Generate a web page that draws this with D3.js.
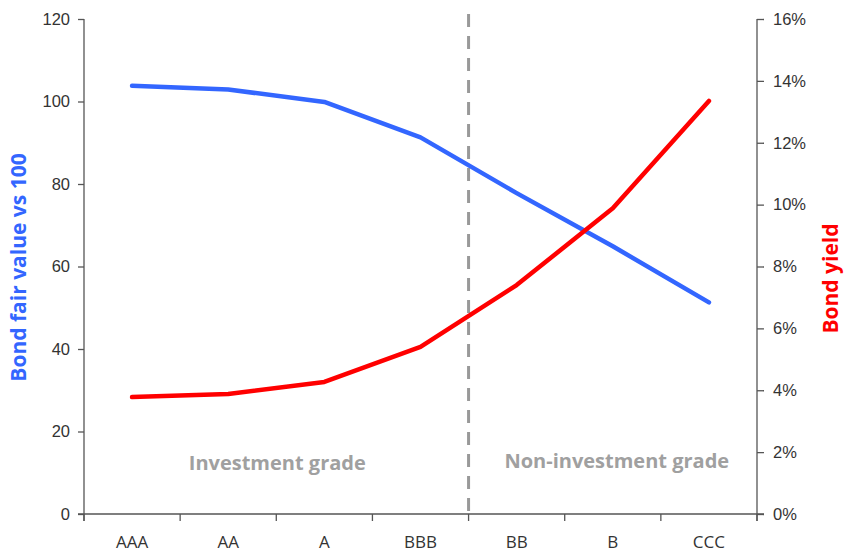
<!DOCTYPE html>
<html>
<head>
<meta charset="utf-8">
<script src="https://cdn.jsdelivr.net/npm/d3@7"></script>
<style>
  html, body { margin: 0; padding: 0; background: #fff; }
  svg { display: block; font-family: "Open Sans", "Noto Sans", sans-serif; }
  .axis path, .axis line { stroke: #555; stroke-width: 1.3; }
  .axis text { fill: #333; font-size: 16.5px; }
</style>
</head>
<body>
<svg id="chart" width="845" height="554"></svg>
<script>
// Credit ratings along the x axis
const ratings = ["AAA", "AA", "A", "BBB", "BB", "B", "CCC"];
// Bond fair value relative to par (left axis)
const fairValue = [103.8, 102.9, 99.9, 91.3, 77.8, 64.9, 51.3];
// Bond yield in percent (right axis)
const bondYield = [3.78, 3.88, 4.27, 5.40, 7.40, 9.88, 13.35];
// Axis ticks
const leftTicks = [0, 20, 40, 60, 80, 100, 120];
const rightTicks = [0, 2, 4, 6, 8, 10, 12, 14, 16];
// Grade boundary sits between these two ratings
const gradeSplit = ["BBB", "BB"];

const svg = d3.select("#chart");
const margin = { left: 84, right: 88, top: 19, bottom: 40 };
const W = 845, H = 554;
const x0 = margin.left, x1 = W - margin.right;
const y0 = H - margin.bottom, y1 = margin.top;

const x = d3.scaleBand().domain(ratings).range([x0, x1]).padding(0);
const yL = d3.scaleLinear().domain([0, 120]).range([y0, y1]);
const yR = d3.scaleLinear().domain([0, 16]).range([y0, y1]);

// Left axis
const gL = svg.append("g").attr("class", "axis").attr("transform", `translate(${x0},0)`)
  .call(d3.axisLeft(yL).tickValues(leftTicks).tickSize(6).tickPadding(8).tickSizeOuter(0));
gL.select(".domain").attr("d", `M0,${y1}V${y0 + 7}`);

// Right axis
const gR = svg.append("g").attr("class", "axis").attr("transform", `translate(${x1},0)`)
  .call(d3.axisRight(yR).tickValues(rightTicks).tickFormat(d => d + "%").tickSize(7).tickPadding(9).tickSizeOuter(0));
gR.select(".domain").attr("d", `M0,${y1}V${y0 + 7}`);

// Bottom axis: ticks sit on band boundaries, labels at band centres
const gB = svg.append("g").attr("class", "axis").attr("transform", `translate(0,${y0})`);
gB.append("line").attr("x1", x0 - 6).attr("x2", x1 + 7).attr("y1", 0).attr("y2", 0)
  .attr("stroke", "#555").attr("stroke-width", 1.3);
const bounds = ratings.map(r => x(r)).concat([x1]);
gB.selectAll("line.tk").data(bounds).join("line").attr("class", "tk")
  .attr("x1", d => d).attr("x2", d => d).attr("y1", 0).attr("y2", 7);
gB.selectAll("text").data(ratings).join("text")
  .attr("x", d => x(d) + x.bandwidth() / 2).attr("y", 34)
  .attr("text-anchor", "middle").style("font-size", "17px").text(d => d);

// Dashed grade boundary
const splitX = x(gradeSplit[1]);
svg.append("line").attr("x1", splitX).attr("x2", splitX).attr("y1", 14).attr("y2", y0 + 6)
  .attr("stroke", "#999").attr("stroke-width", 3).attr("stroke-dasharray", "13,9");

// Grade labels
svg.append("text").attr("x", (x0 + splitX) / 2 + 1).attr("y", 470).attr("text-anchor", "middle")
  .attr("fill", "#a0a0a0").style("font-size", "20px").style("font-weight", "bold").text("Investment grade");
svg.append("text").attr("x", (splitX + x1) / 2 + 4).attr("y", 468).attr("text-anchor", "middle")
  .attr("fill", "#a0a0a0").style("font-size", "20px").style("font-weight", "bold").text("Non-investment grade");

// Lines
const cx = r => x(r) + x.bandwidth() / 2;
svg.append("path").datum(fairValue)
  .attr("d", d3.line().x((d, i) => cx(ratings[i])).y(d => yL(d)))
  .attr("fill", "none").attr("stroke", "#3366ff").attr("stroke-width", 4.5)
  .attr("stroke-linecap", "round").attr("stroke-linejoin", "round");
svg.append("path").datum(bondYield)
  .attr("d", d3.line().x((d, i) => cx(ratings[i])).y(d => yR(d)))
  .attr("fill", "none").attr("stroke", "#ff0000").attr("stroke-width", 4.5)
  .attr("stroke-linecap", "round").attr("stroke-linejoin", "round");

// Axis titles
svg.append("text").attr("transform", `translate(26,${(y0 + y1) / 2 + 1}) rotate(-90)`)
  .attr("text-anchor", "middle").attr("fill", "#3366ff")
  .style("font-size", "21px").style("font-weight", "bold").text("Bond fair value vs 100");
svg.append("text").attr("transform", `translate(838,${(y0 + y1) / 2 + 12}) rotate(-90)`)
  .attr("text-anchor", "middle").attr("fill", "#ff0000")
  .style("font-size", "21px").style("font-weight", "bold").text("Bond yield");
</script>
</body>
</html>
